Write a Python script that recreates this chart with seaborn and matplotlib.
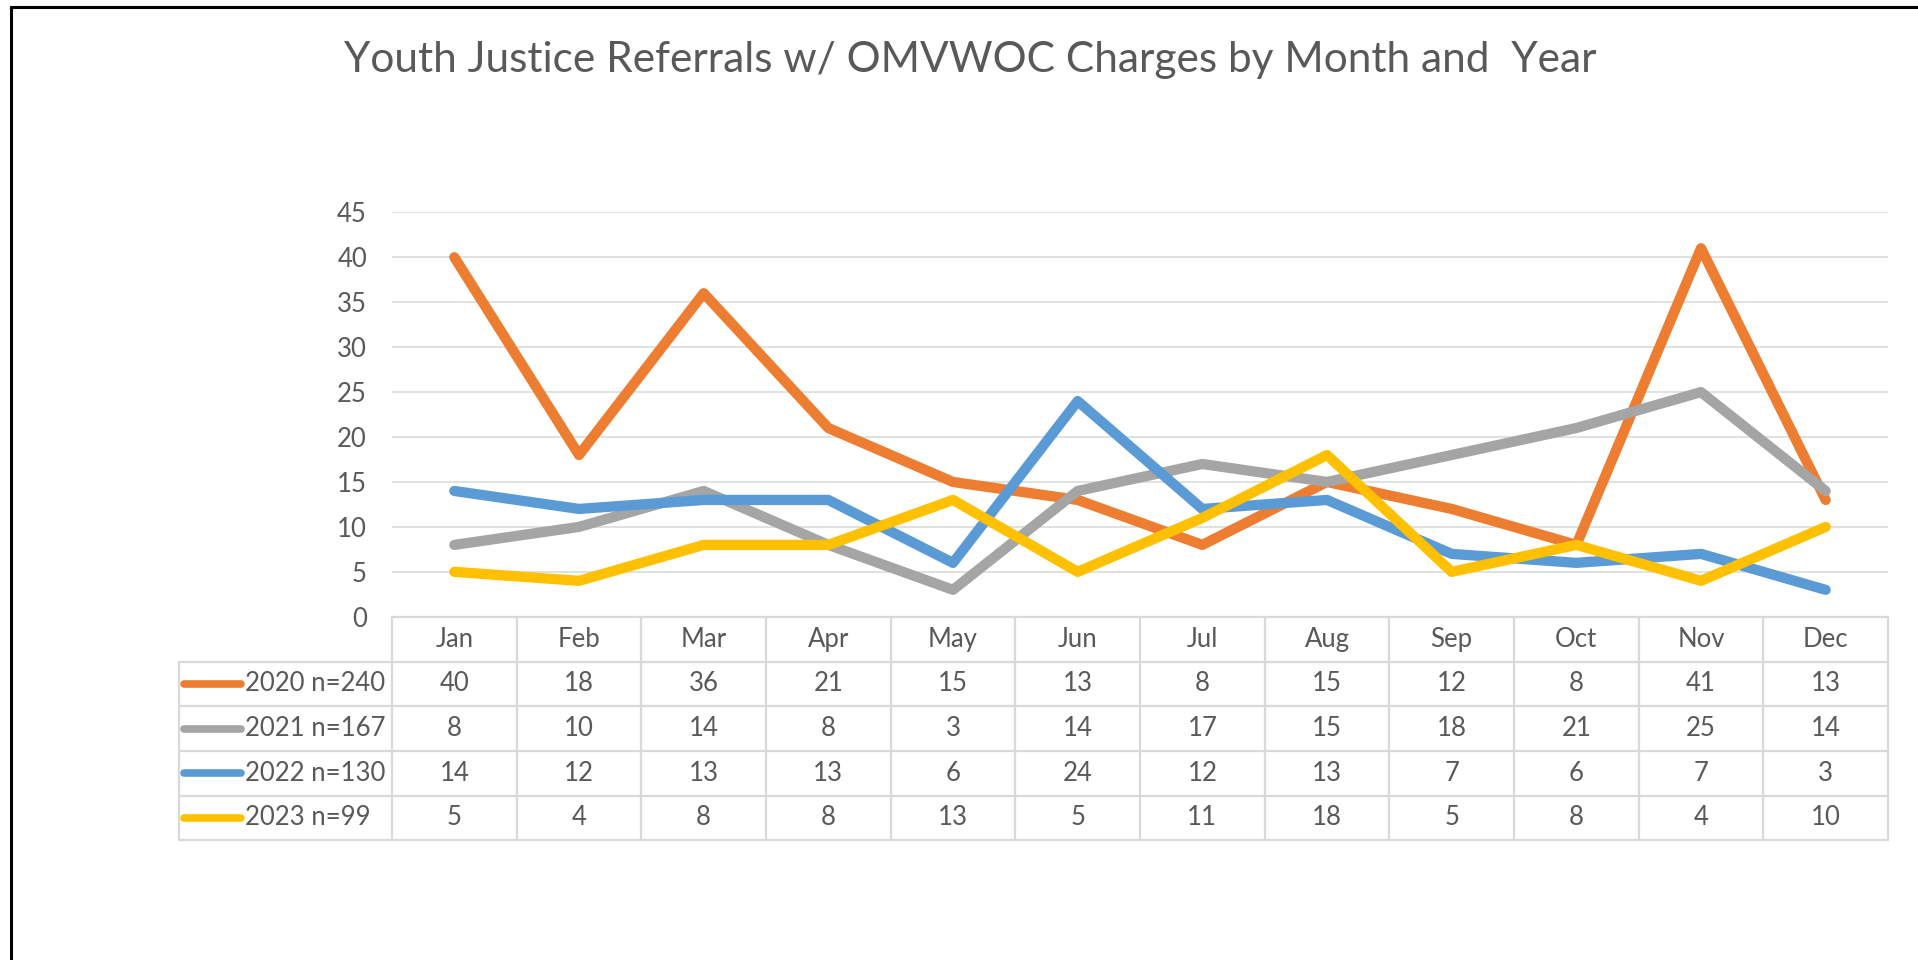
import numpy as np
import pandas as pd
import matplotlib
matplotlib.use("Agg")
import matplotlib.pyplot as plt
import matplotlib.transforms as mtrans
from matplotlib.lines import Line2D
import seaborn as sns

months = ['Jan', 'Feb', 'Mar', 'Apr', 'May', 'Jun', 'Jul', 'Aug', 'Sep', 'Oct', 'Nov', 'Dec']
series_names = ['2020 n=240', '2021 n=167', '2022 n=130', '2023 n=99']
v2020 = [40, 18, 36, 21, 15, 13, 8, 15, 12, 8, 41, 13]
v2021 = [8, 10, 14, 8, 3, 14, 17, 15, 18, 21, 25, 14]
v2022 = [14, 12, 13, 13, 6, 24, 12, 13, 7, 6, 7, 3]
v2023 = [5, 4, 8, 8, 13, 5, 11, 18, 5, 8, 4, 10]
colors = ['#ED7D31', '#A5A5A5', '#5B9BD5', '#FFC000']
yticks = [0, 5, 10, 15, 20, 25, 30, 35, 40, 45]

values = [v2020, v2021, v2022, v2023]
df = pd.DataFrame({
    'pos': np.tile(np.arange(len(months)), len(series_names)),
    'month': months * len(series_names),
    'series': np.repeat(series_names, len(months)),
    'count': np.concatenate(values),
})

sns.set_style("white")
plt.rcParams['font.family'] = ['Lato', 'DejaVu Sans']
TXT = '#595959'
GRID = '#D9D9D9'
FS = 18.5

W, H = 1918, 960
fig = plt.figure(figsize=(W / 100, H / 100), dpi=100)
x0, x1, ytop, ybot = 392, 1888, 212.3, 616.8
ax = fig.add_axes([x0 / W, 1 - ybot / H, (x1 - x0) / W, (ybot - ytop) / H])

sns.lineplot(data=df, x='pos', y='count', hue='series', palette=colors,
             linewidth=7.4, legend=False, sort=False, ax=ax,
             solid_capstyle='round', solid_joinstyle='round')

ax.set_xlim(-0.5, len(months) - 0.5)
ax.set_ylim(0, 45)
ax.set_yticks(yticks)
ax.set_xticks([])
ax.set_xlabel('')
ax.set_ylabel('')
ax.tick_params(axis='y', length=0, pad=18, labelsize=FS, labelcolor=TXT)
ax.yaxis.grid(True, color=GRID, linewidth=1.1)
ax.set_axisbelow(True)
for s in ax.spines.values():
    s.set_visible(False)

# data table under the plot
tr = mtrans.blended_transform_factory(ax.transData, ax.transAxes)
rh = 44.7 / (ybot - ytop)
mw = (x1 - x0) / len(months)
xleft = -0.5 - (x0 - 179) / mw
nrows = len(series_names) + 1
lkw = dict(color=GRID, linewidth=1.6, transform=tr, clip_on=False, zorder=1)
ax.plot([-0.5, len(months) - 0.5], [0, 0], **lkw)
for r in range(1, nrows + 1):
    ax.plot([xleft, len(months) - 0.5], [-r * rh, -r * rh], **lkw)
for i in range(len(months) + 1):
    ax.plot([i - 0.5, i - 0.5], [0, -nrows * rh], **lkw)
ax.plot([xleft, xleft], [-rh, -nrows * rh], **lkw)

tkw = dict(transform=tr, ha='center', va='center', fontsize=FS, color=TXT, clip_on=False)
for i, m in enumerate(months):
    ax.text(i, -0.5 * rh, m, **tkw)
for r, (name, vals, c) in enumerate(zip(series_names, values, colors)):
    yc = -(r + 1.5) * rh
    for i, v in enumerate(vals):
        ax.text(i, yc, str(v), **tkw)
    ax.plot([xleft + 5 / mw, xleft + 62 / mw], [yc, yc], color=c, linewidth=5.5,
            solid_capstyle='round', transform=tr, clip_on=False)
    ax.text(xleft + 66 / mw, yc, name, transform=tr, ha='left', va='center',
            fontsize=FS, color=TXT, clip_on=False)

fig.text(970 / W, 1 - 60 / H, 'Youth Justice Referrals w/ OMVWOC Charges by Month and  Year',
         ha='center', va='center', fontsize=30.5, color=TXT)

# outer frame (top and left edges)
fig.add_artist(Line2D([11 / W, 1], [1 - 7 / H, 1 - 7 / H], color='black', linewidth=2.2,
                      transform=fig.transFigure))
fig.add_artist(Line2D([11 / W, 11 / W], [0, 1 - 7 / H], color='black', linewidth=2.2,
                      transform=fig.transFigure))

fig.savefig('out.png', dpi=100, facecolor='white')
